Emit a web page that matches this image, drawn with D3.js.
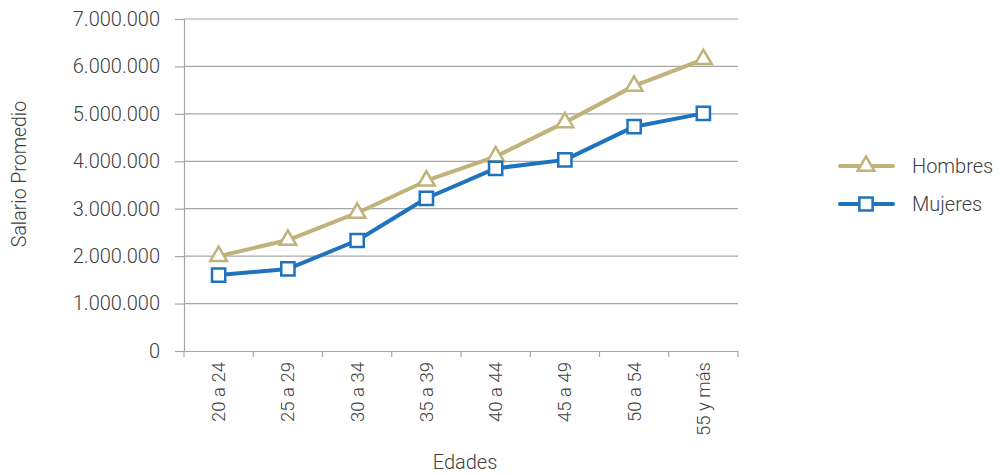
<!DOCTYPE html>
<html><head><meta charset="utf-8">
<script src="https://cdn.jsdelivr.net/npm/d3@7"></script>
<style>body{margin:0;background:#fff}text{font-family:Roboto,sans-serif;fill:#404040}</style>
</head><body><svg id="c" width="1001" height="475"></svg>
<script>
const categories=["20 a 24","25 a 29","30 a 34","35 a 39","40 a 44","45 a 49","50 a 54","55 y más"];
const hombres=[2000000,2340000,2910000,3590000,4100000,4820000,5590000,6150000];
const mujeres=[1600000,1730000,2330000,3220000,3850000,4030000,4730000,5010000];
const yTicks=[0,1000000,2000000,3000000,4000000,5000000,6000000,7000000];
const seriesNames=["Hombres","Mujeres"];
const colors=["#bfb27a","#1f73be"];

const svg=d3.select("#c");
const x=d3.scaleBand().domain(categories).range([184,738]);
const y=d3.scaleLinear().domain([0,7000000]).range([351,19]);
const fmt=v=>d3.format(",")(v).replace(/,/g,".");

// gridlines
svg.append("g").selectAll("line").data(yTicks.slice(1)).join("line")
 .attr("x1",184).attr("x2",738).attr("y1",d=>y(d)).attr("y2",d=>y(d))
 .attr("stroke","#a6a6a6").attr("stroke-width",1.2);
// y axis
const ya=svg.append("g").attr("transform","translate(184,0)")
 .call(d3.axisLeft(y).tickValues(yTicks).tickFormat(fmt).tickSize(9).tickPadding(15));
ya.select(".domain").attr("stroke","#a6a6a6").attr("stroke-width",1.2);
ya.selectAll(".tick line").attr("stroke","#a6a6a6").attr("stroke-width",1.2);
ya.selectAll("text").attr("font-size",20).attr("fill","#404040").style("font-family","Roboto, sans-serif").style("font-weight",300);
// x axis
const xa=svg.append("g").attr("transform","translate(0,351)")
 .call(d3.axisBottom(x).tickSize(0));
xa.select(".domain").attr("stroke","#a6a6a6").attr("stroke-width",1.2);
xa.selectAll(".tick text").attr("transform","rotate(-90)").attr("text-anchor","end")
 .attr("x",-11).attr("y",0).attr("dy","0.35em").attr("font-size",18.5).attr("fill","#404040").style("font-family","Roboto, sans-serif").style("font-weight",300);
svg.append("g").selectAll("line").data(d3.range(categories.length+1)).join("line")
 .attr("x1",i=>184+i*x.step()).attr("x2",i=>184+i*x.step()).attr("y1",351).attr("y2",357)
 .attr("stroke","#a6a6a6").attr("stroke-width",1.2);

// axis titles
svg.append("text").attr("transform","translate(26,174) rotate(-90)").attr("text-anchor","middle")
 .attr("font-size",19.5).style("font-weight",300).text("Salario Promedio");
svg.append("text").attr("x",465).attr("y",469).attr("text-anchor","middle")
 .attr("font-size",20).style("font-weight",300).text("Edades");

const cx=d=>x(d)+x.bandwidth()/2;
const line=d3.line().x((d,i)=>cx(categories[i])).y(d=>y(d));
const tri=d3.symbol().type(d3.symbolTriangle).size(120);
const sq=d3.symbol().type(d3.symbolSquare).size(175);
const data=[hombres,mujeres];
data.forEach((vals,k)=>{
  svg.append("path").attr("d",line(vals)).attr("fill","none").attr("stroke",colors[k]).attr("stroke-width",4).attr("stroke-linejoin","round");
  svg.append("g").selectAll("path").data(vals).join("path")
   .attr("transform",(d,i)=>`translate(${cx(categories[i])},${y(d)})`)
   .attr("d",k===0?tri:sq).attr("fill","#fff").attr("stroke",colors[k]).attr("stroke-width",2.5);
});

// legend
const ly=[166,204];
seriesNames.forEach((n,k)=>{
  const g=svg.append("g");
  g.append("line").attr("x1",840).attr("x2",893).attr("y1",ly[k]).attr("y2",ly[k]).attr("stroke",colors[k]).attr("stroke-width",4).attr("stroke-linecap","round");
  g.append("path").attr("transform",`translate(866,${ly[k]})`).attr("d",k===0?tri:sq).attr("fill","#fff").attr("stroke",colors[k]).attr("stroke-width",2.5);
  g.append("text").attr("x",912).attr("y",ly[k]).attr("dy","0.35em").attr("font-size",20).style("font-weight",300).text(n);
});
</script></body></html>
